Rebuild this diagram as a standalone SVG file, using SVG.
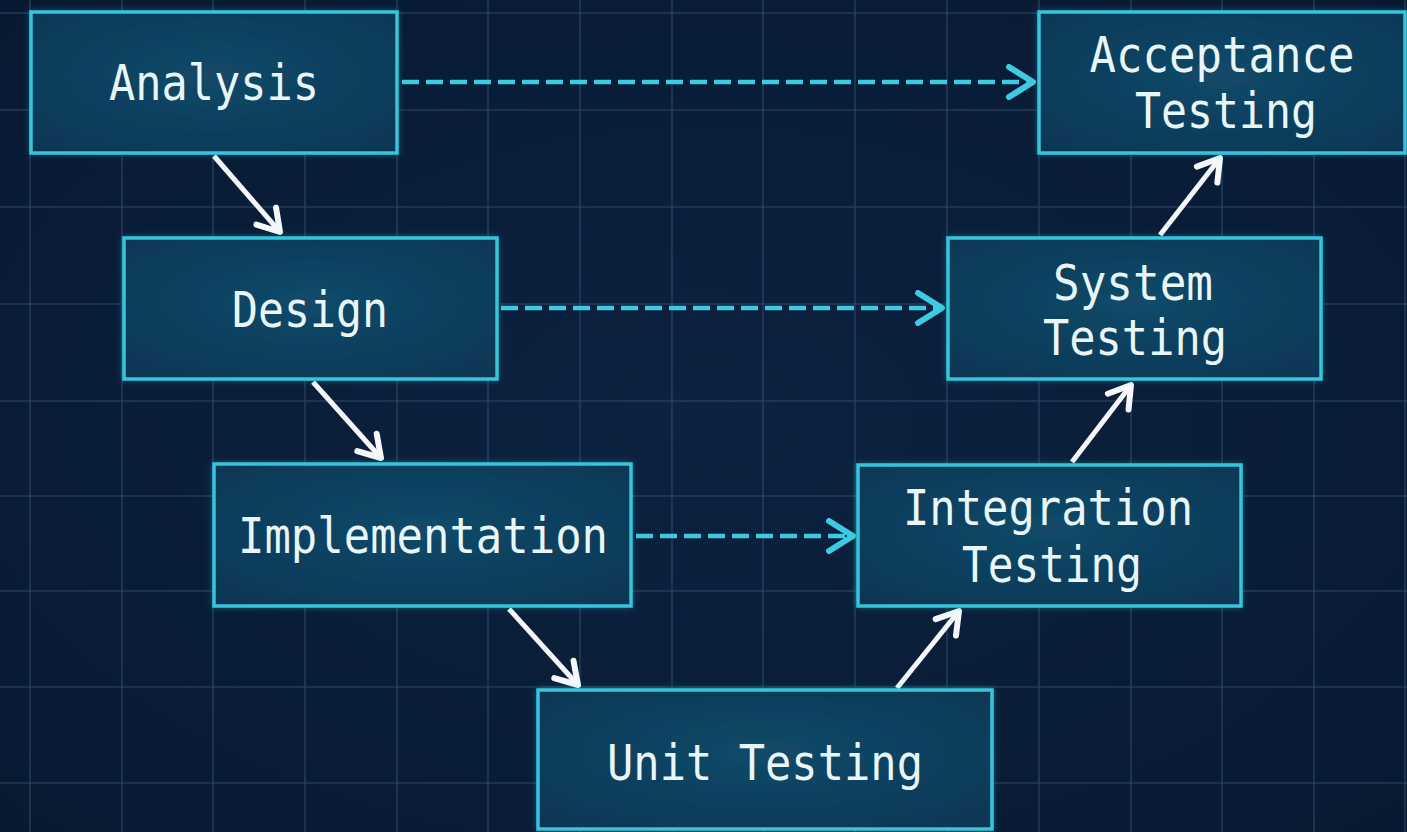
<svg xmlns="http://www.w3.org/2000/svg" width="1407" height="832" viewBox="0 0 1407 832">
  <defs>
    <style>
      .grid line { stroke: #2a4663; stroke-width: 1.6; opacity: 0.75; }
      .node rect { fill: url(#boxFill); stroke: #34c6dc; stroke-width: 3.5; filter: url(#glow); }
      .node text { font-family: "DejaVu Sans Mono", "Liberation Mono", monospace; font-size: 50px; fill: #e8f6f7; text-anchor: middle; }
      .flow { stroke: #f4f8fa; stroke-width: 5; fill: none; marker-end: url(#whiteHead); }
      .verify { stroke: #3ccbe0; stroke-width: 4.5; fill: none; stroke-dasharray: 17 7; marker-end: url(#cyanHead); }
    </style>
    <radialGradient id="boxFill" cx="0.5" cy="0.45" r="0.7">
      <stop offset="0" stop-color="#124a69"/>
      <stop offset="1" stop-color="#0c3655"/>
    </radialGradient>
    <radialGradient id="bgShade" cx="0.5" cy="0.5" r="0.75">
      <stop offset="0" stop-color="#0c2240"/>
      <stop offset="1" stop-color="#081831"/>
    </radialGradient>
    <filter id="glow" x="-10%" y="-10%" width="120%" height="120%">
      <feDropShadow dx="0" dy="0" stdDeviation="3" flood-color="#2fc4dc" flood-opacity="0.35"/>
    </filter>
    <marker id="whiteHead" viewBox="0 0 36 36" refX="32" refY="18" markerWidth="36" markerHeight="36" markerUnits="userSpaceOnUse" orient="auto">
      <path d="M11,5 L32,18 L11,31" fill="none" stroke="#f4f8fa" stroke-width="6" stroke-linecap="round" stroke-linejoin="round"/>
    </marker>
    <marker id="cyanHead" viewBox="0 0 36 36" refX="32" refY="18" markerWidth="36" markerHeight="36" markerUnits="userSpaceOnUse" orient="auto">
      <path d="M8,3 L32,18 L8,33" fill="none" stroke="#3ccbe0" stroke-width="6" stroke-linecap="round" stroke-linejoin="round"/>
    </marker>
  </defs>

  <!-- background and blueprint grid -->
  <rect width="1407" height="832" fill="url(#bgShade)"/>
  <g class="grid">
    <line x1="30" y1="0" x2="30" y2="832"/>
    <line x1="122" y1="0" x2="122" y2="832"/>
    <line x1="213" y1="0" x2="213" y2="832"/>
    <line x1="305" y1="0" x2="305" y2="832"/>
    <line x1="397" y1="0" x2="397" y2="832"/>
    <line x1="488" y1="0" x2="488" y2="832"/>
    <line x1="580" y1="0" x2="580" y2="832"/>
    <line x1="672" y1="0" x2="672" y2="832"/>
    <line x1="763" y1="0" x2="763" y2="832"/>
    <line x1="855" y1="0" x2="855" y2="832"/>
    <line x1="947" y1="0" x2="947" y2="832"/>
    <line x1="1039" y1="0" x2="1039" y2="832"/>
    <line x1="1131" y1="0" x2="1131" y2="832"/>
    <line x1="1222" y1="0" x2="1222" y2="832"/>
    <line x1="1314" y1="0" x2="1314" y2="832"/>
    <line x1="1405" y1="0" x2="1405" y2="832"/>
    <line x1="0" y1="13" x2="1407" y2="13"/>
    <line x1="0" y1="110" x2="1407" y2="110"/>
    <line x1="0" y1="207" x2="1407" y2="207"/>
    <line x1="0" y1="304" x2="1407" y2="304"/>
    <line x1="0" y1="401" x2="1407" y2="401"/>
    <line x1="0" y1="496" x2="1407" y2="496"/>
    <line x1="0" y1="591" x2="1407" y2="591"/>
    <line x1="0" y1="687" x2="1407" y2="687"/>
    <line x1="0" y1="783" x2="1407" y2="783"/>
  </g>

  <!-- connectors -->
  <g id="connectors">
    <line class="flow" x1="214" y1="156" x2="280" y2="232"/>
    <line class="flow" x1="313" y1="382" x2="381" y2="458"/>
    <line class="flow" x1="509" y1="609" x2="578" y2="685"/>
    <line class="flow" x1="897" y1="688" x2="959" y2="611"/>
    <line class="flow" x1="1072" y1="462" x2="1131" y2="385"/>
    <line class="flow" x1="1160" y1="235" x2="1220" y2="158"/>
    <line class="verify" x1="402" y1="82" x2="1033" y2="82"/>
    <line class="verify" x1="501" y1="308" x2="942" y2="308"/>
    <line class="verify" x1="636" y1="536" x2="853" y2="536"/>
  </g>

  <!-- left branch -->
  <g id="analysis" class="node">
    <rect x="31" y="12" width="366" height="141"/>
    <text x="214" y="100" textLength="210" lengthAdjust="spacingAndGlyphs">Analysis</text>
  </g>
  <g id="design" class="node">
    <rect x="124" y="238" width="373" height="141"/>
    <text x="310" y="327" textLength="156" lengthAdjust="spacingAndGlyphs">Design</text>
  </g>
  <g id="implementation" class="node">
    <rect x="214" y="464" width="417" height="142"/>
    <text x="423" y="553" textLength="370" lengthAdjust="spacingAndGlyphs">Implementation</text>
  </g>

  <!-- base -->
  <g id="unit-testing" class="node">
    <rect x="538" y="690" width="454" height="139"/>
    <text x="765" y="780" textLength="316" lengthAdjust="spacingAndGlyphs">Unit Testing</text>
  </g>

  <!-- right branch -->
  <g id="integration-testing" class="node">
    <rect x="858" y="465" width="383" height="141"/>
    <text x="1048" y="525" textLength="290" lengthAdjust="spacingAndGlyphs">Integration</text>
    <text x="1052" y="582" textLength="180" lengthAdjust="spacingAndGlyphs">Testing</text>
  </g>
  <g id="system-testing" class="node">
    <rect x="948" y="238" width="373" height="141"/>
    <text x="1133" y="300" textLength="160" lengthAdjust="spacingAndGlyphs">System</text>
    <text x="1135" y="355" textLength="184" lengthAdjust="spacingAndGlyphs">Testing</text>
  </g>
  <g id="acceptance-testing" class="node">
    <rect x="1039" y="12" width="366" height="141"/>
    <text x="1222" y="72" textLength="265" lengthAdjust="spacingAndGlyphs">Acceptance</text>
    <text x="1226" y="128" textLength="182" lengthAdjust="spacingAndGlyphs">Testing</text>
  </g>
</svg>
